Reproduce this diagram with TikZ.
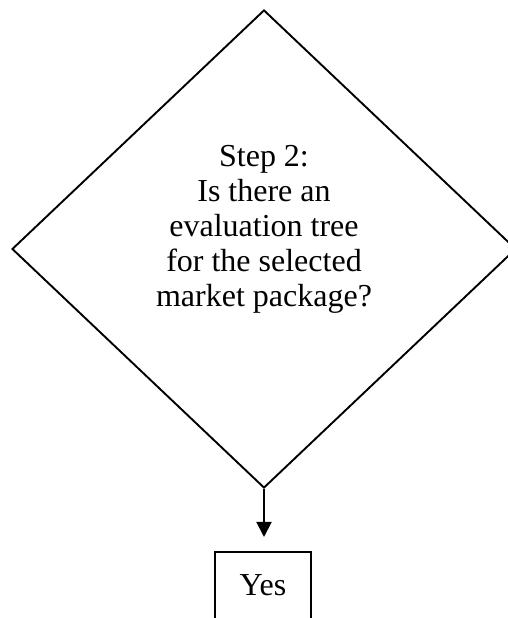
\documentclass[tikz,border=0pt]{standalone}
\usepackage{fontspec}
\setmainfont{Liberation Serif}
\usetikzlibrary{shapes.geometric,arrows.meta}
\begin{document}
\begin{tikzpicture}[x=1pt,y=1pt,
  line width=1.9pt,
  decision/.style={diamond,draw,inner sep=0pt,minimum width=504pt,minimum height=478pt},
  qtext/.style={align=center,inner sep=0pt,font=\fontsize{32}{35}\selectfont},
  answer/.style={draw,anchor=base,minimum width=96pt,inner xsep=0pt,inner ysep=22pt,
    text height=21pt,text depth=10pt,font=\fontsize{32}{35}\selectfont},
  flow/.style={-{Triangle[length=15pt,width=15pt]}}]
\useasboundingbox (0,0) rectangle (508,618);
\clip (0,0) rectangle (508,618);
% decision diamond and its question
\node[decision] (d) at (264,369) {};
\node[qtext] (q) at (264,388.5) {Step 2:\\Is there an\\evaluation tree\\for the selected\\market package?};
% answer box, its lower edge runs off the page
\node[answer] (yes) at (263,23) {Yes};
\coordinate (tip) at (263.5,81);
\draw[flow] (d.south) -- (d.south |- tip);
\end{tikzpicture}
\end{document}
